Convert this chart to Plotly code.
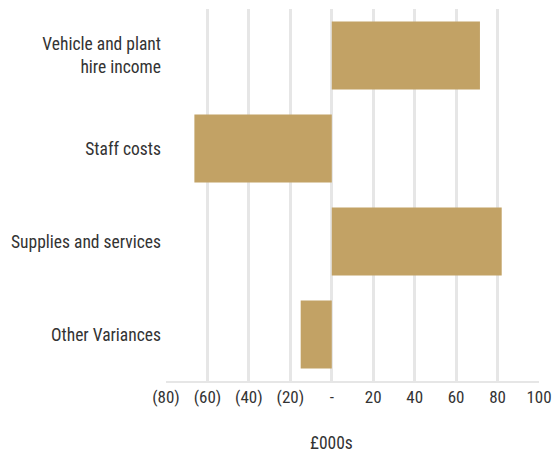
import plotly.graph_objects as go

categories = ["Vehicle and plant<br>hire income", "Staff costs", "Supplies and services", "Other Variances"]
variances = [71.5, -66.3, 82, -15]
tick_values = [-80, -60, -40, -20, 0, 20, 40, 60, 80, 100]
tick_labels = ["(80)", "(60)", "(40)", "(20)", "-", "20", "40", "60", "80", "100"]
axis_title = "£000s"

font_family = "Roboto Condensed, Liberation Sans Narrow, DejaVu Sans Condensed, Roboto, sans-serif"
text_color = "#333333"

fig = go.Figure(
    go.Bar(
        x=variances,
        y=categories,
        orientation="h",
        marker=dict(color="#C2A265", line=dict(width=0)),
        hoverinfo="x+y",
    )
)

fig.update_layout(
    width=554,
    height=455,
    margin=dict(l=166, r=15, t=9, b=74),
    paper_bgcolor="white",
    plot_bgcolor="white",
    bargap=0.27,
    showlegend=False,
    font=dict(family=font_family, size=17.5, color=text_color),
)

fig.update_xaxes(
    range=[-80, 100],
    tickvals=tick_values,
    ticktext=tick_labels,
    showgrid=True,
    gridcolor="#e6e6e6",
    gridwidth=3,
    zeroline=False,
    showline=True,
    linecolor="#e6e6e6",
    linewidth=2,
    ticks="",
    automargin=False,
    tickfont=dict(size=17, color=text_color),
)

fig.update_yaxes(
    categoryorder="array",
    categoryarray=categories[::-1],
    showgrid=False,
    zeroline=False,
    showline=False,
    ticks="",
    automargin=False,
    ticklabelstandoff=4,
    tickfont=dict(size=17.5, color=text_color),
)

# Unit label under the axis, centred beneath the zero line
fig.add_annotation(
    text=axis_title,
    xref="x",
    x=0,
    yref="paper",
    y=0,
    yanchor="middle",
    yshift=-62,
    showarrow=False,
    font=dict(size=17.5, color=text_color),
)

fig.write_html("out.html")
